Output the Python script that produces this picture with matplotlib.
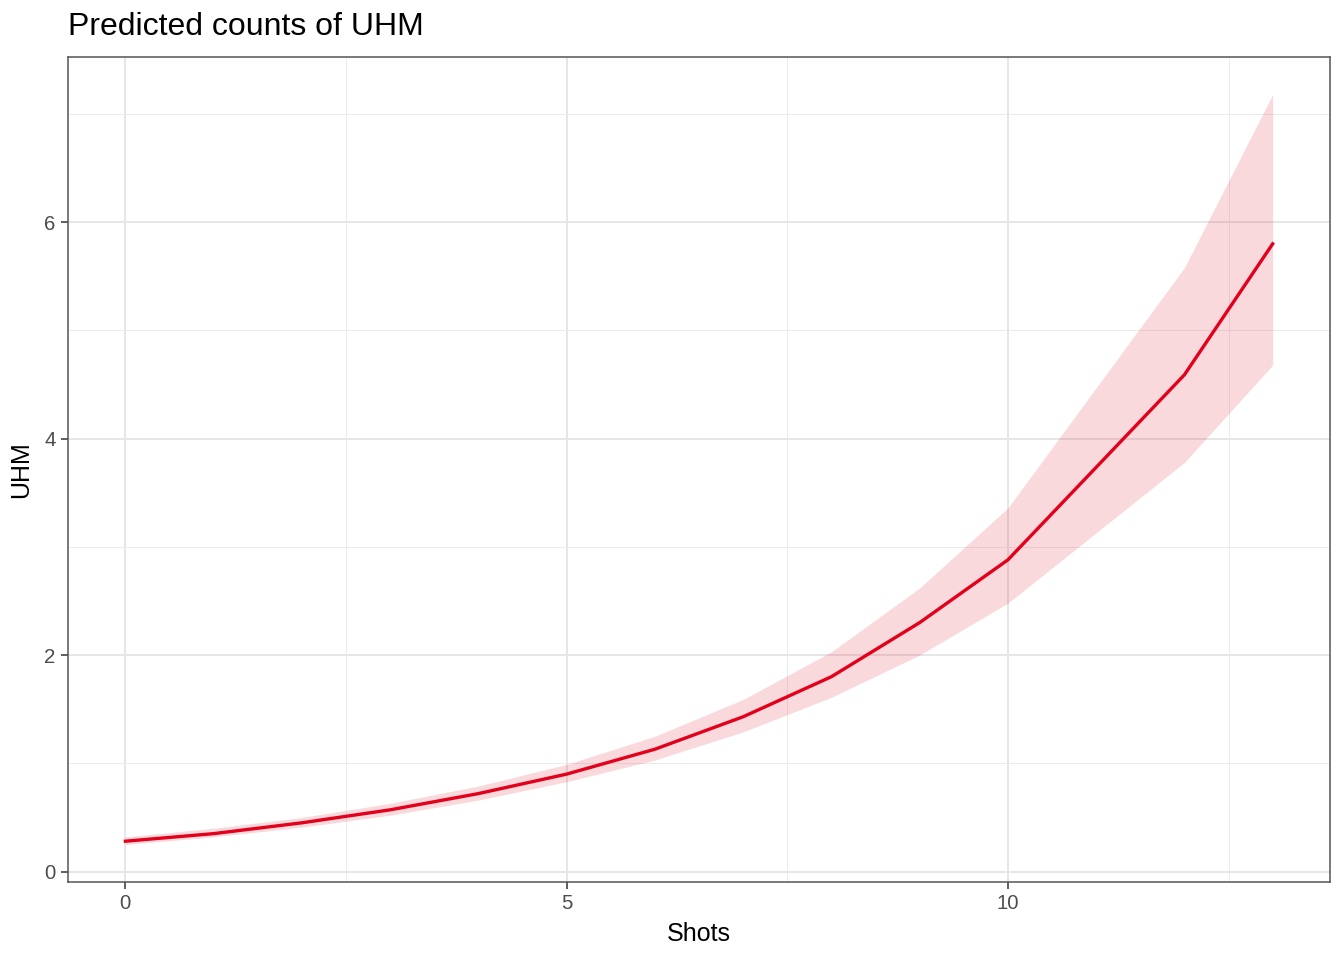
import matplotlib
matplotlib.use("Agg")
import matplotlib.pyplot as plt
import numpy as np

plt.rcParams['font.family'] = ['Liberation Sans', 'DejaVu Sans']

# predicted counts of UHM by number of shots
shots = [0, 1, 2, 3, 4, 5, 6, 7, 8, 9, 10, 12, 13]
predicted = [0.28, 0.35, 0.45, 0.57, 0.72, 0.90, 1.13, 1.43, 1.80, 2.30, 2.88, 4.59, 5.80]
conf_low = [0.25, 0.32, 0.41, 0.52, 0.66, 0.83, 1.03, 1.29, 1.61, 2.00, 2.48, 3.78, 4.68]
conf_high = [0.32, 0.40, 0.50, 0.63, 0.79, 0.99, 1.25, 1.59, 2.03, 2.62, 3.36, 5.58, 7.18]

x_ticks = [0, 5, 10]
x_minor = [2.5, 7.5, 12.5]
y_ticks = [0, 2, 4, 6]
y_minor = [1, 3, 5, 7]

fig = plt.figure(figsize=(13.44, 9.6), dpi=100)
ax = fig.add_axes([0.0506, 0.0813, 0.939, 0.8593])

ax.fill_between(shots, conf_low, conf_high, color='#e3001b', alpha=0.15, linewidth=0, zorder=2)
ax.plot(shots, predicted, color='#e3001b', linewidth=2.4, zorder=3)

# ggplot style expansion of 5%
xr = max(shots) - min(shots)
ax.set_xlim(min(shots) - 0.05 * xr, max(shots) + 0.05 * xr)
ymin = min(conf_low)
ymax = max(conf_high)
yr = ymax - ymin
ax.set_ylim(ymin - 0.05 * yr, ymax + 0.05 * yr)

ax.set_xticks(x_ticks)
ax.set_yticks(y_ticks)
ax.set_xticks(x_minor, minor=True)
ax.set_yticks(y_minor, minor=True)
ax.grid(which='major', color='#e6e6e6', linewidth=1.4, zorder=0)
ax.grid(which='minor', color='#ebebeb', linewidth=0.7, zorder=0)
ax.set_axisbelow(True)

ax.tick_params(which='major', length=5, width=1.1, color='#333333', labelsize=14.7,
               labelcolor='#4d4d4d', pad=4)
ax.tick_params(which='minor', length=0)
for s in ax.spines.values():
    s.set_color('#555555')
    s.set_linewidth(1.1)

ax.set_xlabel('Shots', fontsize=18, color='black', labelpad=6)
ax.set_ylabel('UHM', fontsize=18, color='black', labelpad=8)
fig.text(0.0506, 0.972, 'Predicted counts of UHM', fontsize=23, ha='left', va='center')

plt.savefig('out.png', dpi=100)
plt.close()
